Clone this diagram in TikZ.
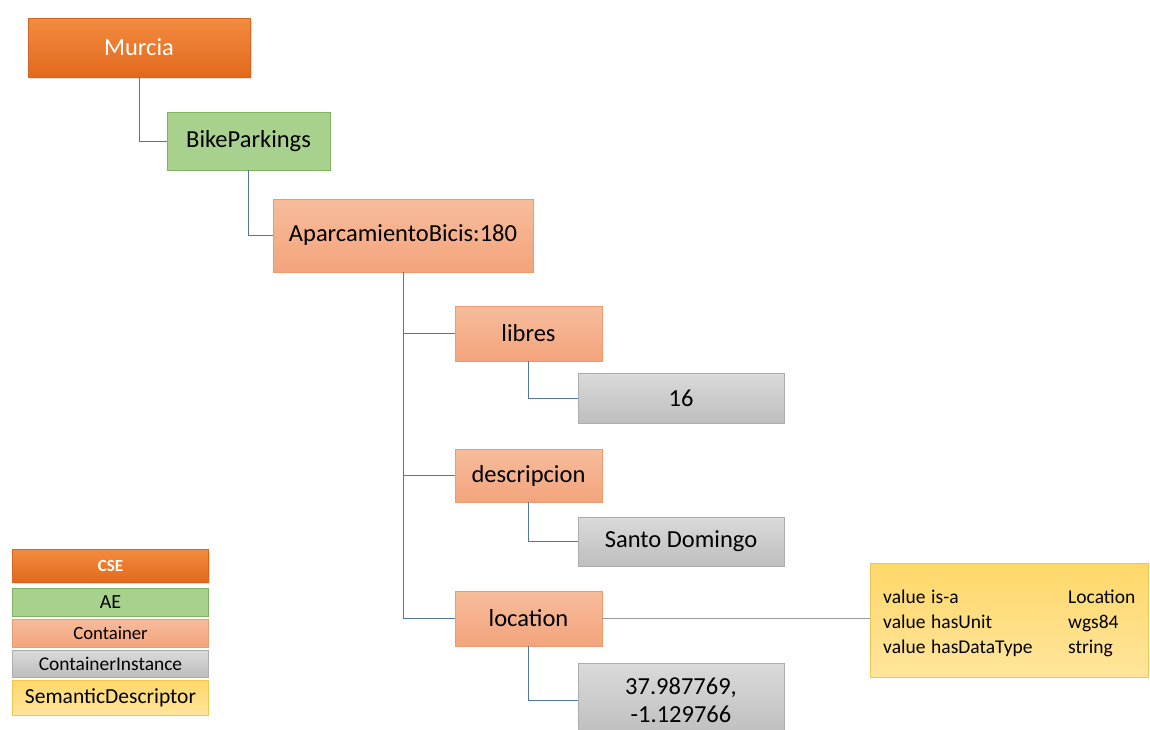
\documentclass[tikz,border=0pt]{standalone}
\usepackage{fontspec}
\setmainfont{Carlito}
\usetikzlibrary{shadows}
\definecolor{cseA}{HTML}{F28C40}
\definecolor{cseB}{HTML}{E2691C}
\definecolor{cseD}{HTML}{D8651F}
\definecolor{aeF}{HTML}{A9D18E}
\definecolor{aeD}{HTML}{80B35E}
\definecolor{ctA}{HTML}{F7BC9C}
\definecolor{ctB}{HTML}{F3A47C}
\definecolor{ctD}{HTML}{EE9A6C}
\definecolor{ciA}{HTML}{DADADA}
\definecolor{ciB}{HTML}{BEBEBE}
\definecolor{ciD}{HTML}{ADADAD}
\definecolor{sdA}{HTML}{FFD86A}
\definecolor{sdB}{HTML}{FFE59C}
\definecolor{sdD}{HTML}{F2C64E}
\definecolor{link}{HTML}{5275A8}
\tikzset{
  box/.style={rectangle, draw, line width=0.8pt, inner sep=0pt, anchor=center},
  cse/.style={box, draw=cseD, top color=cseA, bottom color=cseB, text=white,
     drop shadow={shadow xshift=1.5pt, shadow yshift=-2pt, opacity=0.25}},
  ae/.style={box, draw=aeD, fill=aeF},
  cont/.style={box, draw=ctD, top color=ctA, bottom color=ctB},
  inst/.style={box, draw=ciD, top color=ciA, bottom color=ciB},
  sem/.style={box, draw=sdD, top color=sdA, bottom color=sdB},
  big/.style={font=\fontsize{24.5}{28}\selectfont},
  leg/.style={font=\fontsize{#1}{#1}\selectfont},
  legb/.style={font=\fontsize{#1}{#1}\selectfont\bfseries},
  semtxt/.style={font=\fontsize{19.5}{24}\selectfont, anchor=base west, inner sep=0pt},
  conn/.style={draw=link, line width=0.9pt}
}
\begin{document}
\begin{tikzpicture}[x=1pt,y=-1pt]
\useasboundingbox[fill=white] (0,0) rectangle (1150,729);
% tree
\node[cse, big, minimum width=222pt, minimum height=59pt] (murcia) at (139,47.5) {Murcia};
\node[ae, big, minimum width=163pt, minimum height=58pt] (bike) at (248.5,141) {BikeParkings};
\node[cont, big, minimum width=260pt, minimum height=73pt] (apar) at (403,235.5) {AparcamientoBicis:180};
\node[cont, big, minimum width=147pt, minimum height=55pt] (libres) at (528.5,333.5) {libres};
\node[inst, big, minimum width=206pt, minimum height=50pt] (v16) at (681,398) {16};
\node[cont, big, minimum width=147pt, minimum height=53pt] (desc) at (528.5,475.5) {descripcion};
\node[inst, big, minimum width=206pt, minimum height=49pt] (santo) at (681,541.5) {Santo Domingo};
\node[cont, big, minimum width=147pt, minimum height=55pt] (loc) at (528.5,618.5) {location};
\node[inst, big, minimum width=206pt, minimum height=74pt, align=center] (coord) at (681,700) {37.987769,\\-1.129766};
\node[sem, minimum width=278pt, minimum height=114pt] (sd) at (1009,620) {};
\node[semtxt] (sd1a) at (883,603) {value};
\node[semtxt] (sd1b) at (931,603) {is-a};
\node[semtxt] (sd1c) at (1068,603) {Location};
\node[semtxt] (sd2a) at (883,628) {value};
\node[semtxt] (sd2b) at (931,628) {hasUnit};
\node[semtxt] (sd2c) at (1068,628) {wgs84};
\node[semtxt] (sd3a) at (883,653) {value};
\node[semtxt] (sd3b) at (931,653) {hasDataType};
\node[semtxt] (sd3c) at (1068,653) {string};
% connectors
\draw[conn] (murcia.south) |- (bike.west);
\draw[conn] (bike.south) |- (apar.west);
\draw[conn] (apar.south) |- (libres.west);
\draw[conn] (apar.south) |- (desc.west);
\draw[conn] (apar.south) |- (loc.west);
\draw[conn] (libres.south) |- (v16.west);
\draw[conn] (desc.south) |- (santo.west);
\draw[conn] (loc.south) |- (coord.west);
\draw[conn, draw=gray!80] (loc.east) -- (loc.east -| sd.west);
% legend
\node[cse, legb=17, minimum width=196pt, minimum height=33pt] (lcse) at (110.5,565.5) {CSE};
\node[ae, leg=20, minimum width=196pt, minimum height=28pt] (lae) at (110.5,602) {AE};
\node[cont, leg=18.7, minimum width=196pt, minimum height=28pt] (lct) at (110.5,633) {Container};
\node[inst, leg=19.4, minimum width=196pt, minimum height=27pt] (lci) at (110.5,663.5) {ContainerInstance};
\node[sem, leg=21.5, minimum width=196pt, minimum height=35pt] (lsd) at (110.5,697.5) {SemanticDescriptor};
\end{tikzpicture}
\end{document}
